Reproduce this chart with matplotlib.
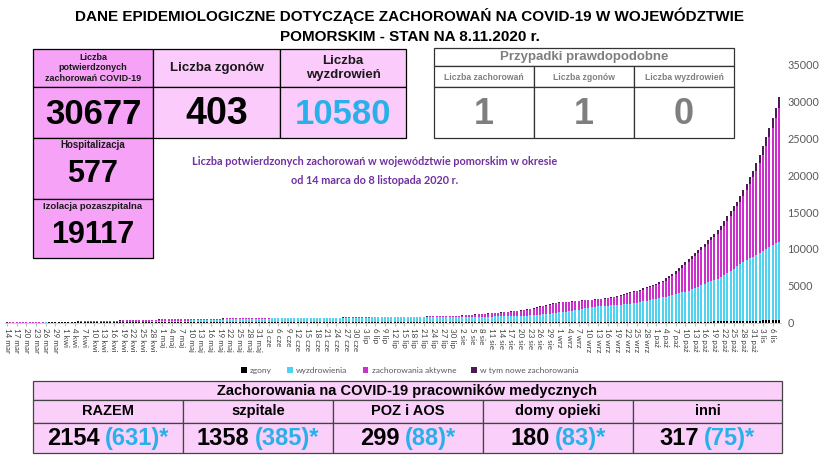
import matplotlib
matplotlib.use("Agg")
import matplotlib.pyplot as plt
from matplotlib.patches import Rectangle
import numpy as np
import pandas as pd

# --- dane: narastajaco, 14.03 - 8.11.2020 ---
total_mar = [3, 5, 7, 9, 11, 14, 17, 21, 25, 30, 36, 43, 51, 59, 68, 76, 85, 94]
total_apr = [103, 112, 121, 131, 141, 151, 161, 172, 183, 194, 205, 216, 227, 238, 249,
             260, 271, 282, 293, 304, 315, 326, 337, 348, 358, 368, 378, 388, 398, 408]
total_may = [418, 426, 434, 442, 450, 457, 464, 471, 478, 485, 492, 499, 505, 511, 517, 523,
             529, 535, 541, 546, 551, 556, 561, 566, 571, 575, 579, 583, 587, 591, 595]
total_jun = [599, 603, 607, 611, 615, 619, 622, 625, 628, 631, 634, 637, 640, 643, 646,
             649, 652, 655, 658, 661, 664, 667, 670, 673, 676, 679, 682, 685, 688, 691]
total_jul = [692, 694, 697, 700, 704, 708, 712, 717, 722, 728, 734, 740, 747, 754, 761, 768,
             776, 784, 792, 800, 809, 818, 827, 836, 845, 854, 863, 872, 881, 890, 900]
total_aug = [930, 965, 1000, 1035, 1070, 1105, 1140, 1170, 1200, 1230, 1265, 1300, 1340, 1380,
             1420, 1465, 1510, 1560, 1615, 1675, 1740, 1810, 1890, 1980, 2080, 2190, 2300,
             2400, 2500, 2590, 2660]
total_sep = [2720, 2760, 2800, 2840, 2880, 2920, 2960, 3000, 3040, 3080, 3120, 3160, 3200,
             3250, 3300, 3360, 3430, 3520, 3620, 3720, 3830, 3950, 4080, 4210, 4340, 4480,
             4620, 4770, 4920, 5080]
total_oct = [5250, 5450, 5700, 5980, 6280, 6620, 7000, 7400, 7800, 8200, 8600, 9000, 9400,
             9800, 10250, 10700, 11150, 11600, 12050, 12550, 13100, 13750, 14400, 15100,
             15750, 16400, 17150, 17950, 18800, 19700, 20600]
total_nov = [21600, 22800, 24000, 25200, 26400, 27700, 29100, 30677]

rec_mar = [0, 0, 0, 0, 0, 0, 0, 0, 0, 0, 0, 0, 1, 1, 2, 2, 3, 3]
rec_apr = [4, 5, 6, 8, 10, 12, 14, 17, 20, 23, 26, 30, 34, 38, 43, 48, 53, 58, 64, 70,
           76, 83, 90, 97, 104, 112, 120, 128, 137, 146]
rec_may = [155, 165, 175, 185, 196, 207, 218, 230, 242, 254, 266, 278, 290, 302, 314, 326,
           338, 350, 362, 374, 386, 397, 408, 419, 430, 440, 450, 460, 470, 480, 489]
rec_jun = [497, 505, 512, 519, 526, 532, 538, 544, 550, 555, 560, 565, 570, 574, 578, 582,
           586, 590, 594, 598, 601, 604, 607, 610, 613, 616, 619, 622, 625, 628]
rec_jul = [630, 632, 634, 636, 638, 640, 642, 645, 648, 651, 654, 657, 660, 663, 666, 669,
           672, 675, 678, 681, 684, 687, 690, 693, 696, 699, 702, 705, 708, 711, 714]
rec_aug = [717, 720, 723, 726, 730, 734, 738, 742, 747, 752, 757, 763, 769, 776, 784, 793,
           803, 814, 826, 840, 856, 875, 900, 930, 965, 1005, 1050, 1100, 1150, 1200, 1250]
rec_sep = [1300, 1360, 1420, 1480, 1540, 1600, 1680, 1760, 1840, 1920, 2000, 2060, 2100,
           2140, 2180, 2210, 2240, 2270, 2300, 2330, 2360, 2390, 2420, 2500, 2580, 2660,
           2760, 2880, 2980, 3060]
rec_oct = [3140, 3220, 3300, 3400, 3520, 3650, 3780, 3880, 3980, 4080, 4200, 4380, 4560,
           4740, 4920, 5100, 5300, 5450, 5600, 5800, 6000, 6240, 6500, 6800, 7100, 7450,
           7800, 8050, 8300, 8500, 8700]
rec_nov = [8950, 9200, 9450, 9700, 9950, 10150, 10350, 10580]

dead_mar = [0, 0, 0, 0, 0, 0, 0, 0, 0, 0, 0, 0, 0, 1, 1, 1, 2, 2]
dead_apr = [2, 2, 3, 3, 3, 4, 4, 5, 5, 6, 6, 7, 7, 8, 8, 9, 9, 10, 10, 11,
            11, 12, 12, 13, 13, 14, 14, 15, 15, 16]
dead_may = [16, 17, 17, 18, 18, 19, 19, 20, 20, 21, 21, 22, 22, 23, 23, 24, 24, 25, 25, 26,
            26, 27, 27, 28, 28, 28, 29, 29, 29, 30, 30]
dead_jun = [30, 31, 31, 31, 32, 32, 32, 33, 33, 33, 34, 34, 34, 35, 35, 35, 36, 36, 36, 37,
            37, 37, 38, 38, 38, 39, 39, 39, 40, 40]
dead_jul = [40, 40, 41, 41, 41, 42, 42, 42, 43, 43, 43, 44, 44, 44, 45, 45, 45, 46, 46, 46,
            47, 47, 47, 48, 48, 48, 49, 49, 49, 50, 50]
dead_aug = [50, 51, 51, 52, 52, 53, 53, 54, 54, 55, 55, 56, 56, 57, 57, 58, 58, 59, 59, 60,
            60, 61, 61, 62, 62, 63, 63, 64, 64, 65, 65]
dead_sep = [66, 67, 68, 69, 70, 71, 72, 73, 74, 75, 76, 77, 78, 79, 80, 81, 82, 83, 84, 85,
            86, 87, 88, 89, 90, 91, 92, 93, 94, 95]
dead_oct = [96, 97, 98, 99, 100, 102, 104, 106, 108, 110, 112, 115, 118, 121, 124, 127, 131,
            135, 139, 143, 148, 153, 158, 164, 170, 177, 185, 194, 204, 215, 227]
dead_nov = [242, 260, 280, 302, 326, 350, 376, 403]

months_pl = ['sty', 'lut', 'mar', 'kwi', 'maj', 'cze', 'lip', 'sie', 'wrz', 'paź', 'lis', 'gru']

# kafelki
box_labels = ["Liczba\npotwierdzonych\nzachorowań COVID-19", "Liczba zgonów", "Liczba\nwyzdrowień"]
box_values = [30677, 403, 10580]
hosp_value = 577
isol_value = 19117
prob_labels = ["Liczba zachorowań", "Liczba zgonów", "Liczba wyzdrowień"]
prob_values = [1, 1, 0]
med_labels = ["RAZEM", "szpitale", "POZ i AOS", "domy opieki", "inni"]
med_total = [2154, 1358, 299, 180, 317]
med_recent = [631, 385, 88, 83, 75]

total = np.array(total_mar + total_apr + total_may + total_jun + total_jul + total_aug
                 + total_sep + total_oct + total_nov)
recovered = np.array(rec_mar + rec_apr + rec_may + rec_jun + rec_jul + rec_aug
                     + rec_sep + rec_oct + rec_nov)
deaths = np.array(dead_mar + dead_apr + dead_may + dead_jun + dead_jul + dead_aug
                  + dead_sep + dead_oct + dead_nov)
new_cases = np.diff(total, prepend=0)
active = total - recovered - deaths - new_cases

dates = pd.date_range("2020-03-14", periods=len(total), freq="D")
x = np.arange(len(total))
ticks = x[::3]
tick_labels = [f"{dates[i].day} {months_pl[dates[i].month - 1]}" for i in ticks]

ARIAL = ['Liberation Sans', 'DejaVu Sans']
CALIBRI = ['Lato', 'DejaVu Sans']

CYAN = '#4FD3F0'
MAGENTA = '#CC2FCC'
PURPLE = '#4A1D52'
BLUE_TXT = '#2AB0E8'

fig = plt.figure(figsize=(8.2, 4.65), dpi=100)

# --- wykres ---
ax = fig.add_axes([5.4 / 820, 1 - 322.5 / 465, 775.2 / 820, (322.5 - 64.7) / 465])
w = 0.62
ax.bar(x, deaths, width=w, color='black', label='zgony')
ax.bar(x, recovered, width=w, bottom=deaths, color=CYAN, label='wyzdrowienia')
ax.bar(x, active, width=w, bottom=deaths + recovered, color=MAGENTA, label='zachorowania aktywne')
ax.bar(x, new_cases, width=w, bottom=deaths + recovered + active, color=PURPLE,
       label='w tym nowe zachorowania')
ax.set_xlim(-0.5, len(total) - 0.5)
ax.set_ylim(0, 35000)
ax.set_yticks(np.arange(0, 35001, 5000))
ax.yaxis.tick_right()
ax.tick_params(axis='y', length=0, pad=5, labelsize=7.8, labelcolor='#595959')
for lab in ax.get_yticklabels():
    lab.set_family(CALIBRI)
ax.set_xticks(ticks)
ax.set_xticklabels(tick_labels, rotation=-90, fontsize=5.8, color='#404040', family=CALIBRI)
ax.tick_params(axis='x', length=2, color='#BFBFBF', pad=2)
for s in ['top', 'left', 'right']:
    ax.spines[s].set_visible(False)
ax.spines['bottom'].set_color('#D0D0D0')
ax.patch.set_visible(False)

fig.legend(loc='center', bbox_to_anchor=(0.5, 1 - 370 / 465), ncol=4, frameon=False,
           labelcolor='#595959', handlelength=0.7, handleheight=0.7,
           columnspacing=1.8, handletextpad=0.4, prop={'family': CALIBRI, 'size': 6})

# --- nakladka w pikselach ---
ov = fig.add_axes([0, 0, 1, 1], zorder=5)
ov.set_xlim(0, 820)
ov.set_ylim(465, 0)
ov.axis('off')
ov.patch.set_visible(False)


def cell(x0, y0, x1, y1, fc, ec='black', lw=0.9):
    ov.add_patch(Rectangle((x0, y0), x1 - x0, y1 - y0, facecolor=fc, edgecolor=ec, lw=lw))


# tytul
ov.text(410, 16, "DANE EPIDEMIOLOGICZNE DOTYCZĄCE ZACHOROWAŃ NA COVID-19 W WOJEWÓDZTWIE",
        ha='center', va='center', fontsize=11, fontweight='bold', family=ARIAL)
ov.text(410, 37, "POMORSKIM - STAN NA 8.11.2020 r.",
        ha='center', va='center', fontsize=11, fontweight='bold', family=ARIAL)

# lewa tabela
cols = [33, 153, 280, 406]
PINK_STRONG = '#F6A2F6'
PINK_LIGHT = '#FBCBFB'
for i in range(3):
    fc = PINK_STRONG if i == 0 else PINK_LIGHT
    cell(cols[i], 49, cols[i + 1], 87, fc)
    cell(cols[i], 87, cols[i + 1], 138, fc)
    xc = (cols[i] + cols[i + 1]) / 2
    ov.text(xc, 68, box_labels[i], ha='center', va='center', family=ARIAL, fontweight='bold',
            fontsize=6.5 if i == 0 else 9.5, color='#1A1A1A', linespacing=1.25)
    ov.text(xc, 114, str(box_values[i]), ha='center', va='center', family=ARIAL,
            fontweight='bold', fontsize=27 if i == 1 else 25,
            color=BLUE_TXT if i == 2 else 'black')

cell(33, 138, 153, 199, PINK_STRONG)
cell(33, 199, 153, 258, PINK_STRONG)
ov.text(93, 145, "Hospitalizacja", ha='center', va='center', family=ARIAL,
        fontweight='bold', fontsize=7, color='#1A1A1A')
ov.text(93, 174, str(hosp_value), ha='center', va='center', family=ARIAL,
        fontweight='bold', fontsize=22)
ov.text(93, 206, "Izolacja pozaszpitalna", ha='center', va='center', family=ARIAL,
        fontweight='bold', fontsize=6.8, color='#1A1A1A')
ov.text(93, 235, str(isol_value), ha='center', va='center', family=ARIAL,
        fontweight='bold', fontsize=22)

# przypadki prawdopodobne
GRAY = '#7F7F7F'
pcols = [434, 534, 634, 734]
cell(434, 48, 734, 66, 'white', ec='#333333')
ov.text(584, 57, "Przypadki prawdopodobne", ha='center', va='center', family=ARIAL,
        fontweight='bold', fontsize=9.5, color=GRAY)
for i in range(3):
    cell(pcols[i], 66, pcols[i + 1], 87, 'white', ec='#333333')
    cell(pcols[i], 87, pcols[i + 1], 138, 'white', ec='#333333')
    xc = (pcols[i] + pcols[i + 1]) / 2
    ov.text(xc, 77, prob_labels[i], ha='center', va='center', family=ARIAL,
            fontweight='bold', fontsize=6.2, color=GRAY)
    ov.text(xc, 114, str(prob_values[i]), ha='center', va='center', family=ARIAL,
            fontweight='bold', fontsize=26, color=GRAY)

# opis wykresu
ov.text(375, 171, "Liczba potwierdzonych zachorowań w województwie pomorskim w okresie\n"
        "od 14 marca do 8 listopada 2020 r.", ha='center', va='center', family=CALIBRI,
        fontweight='bold', fontsize=7.8, color='#7030A0', linespacing=1.9)

# tabela pracownikow medycznych
PINK_T = '#FAD0FA'
cell(33, 381, 782, 400, PINK_T, ec='#444444')
ov.text(407, 391, "Zachorowania na COVID-19 pracowników medycznych", ha='center',
        va='center', family=ARIAL, fontweight='bold', fontsize=10.5)
mcols = [33, 183, 333, 483, 633, 782]
fig.canvas.draw()
rend = fig.canvas.get_renderer()
for i in range(5):
    cell(mcols[i], 400, mcols[i + 1], 423, PINK_T, ec='#444444')
    cell(mcols[i], 423, mcols[i + 1], 453, PINK_T, ec='#444444')
    xc = (mcols[i] + mcols[i + 1]) / 2
    ov.text(xc, 411, med_labels[i], ha='center', va='center', family=ARIAL,
            fontweight='bold', fontsize=10.5)
    t1 = ov.text(0, 438, str(med_total[i]), ha='left', va='center', family=ARIAL,
                 fontweight='bold', fontsize=17)
    t2 = ov.text(0, 438, f"({med_recent[i]})*", ha='left', va='center', family=ARIAL,
                 fontweight='bold', fontsize=17, color=BLUE_TXT)
    w1 = t1.get_window_extent(rend).width
    w2 = t2.get_window_extent(rend).width
    gap = 5
    start = xc - (w1 + gap + w2) / 2
    t1.set_x(start)
    t2.set_x(start + w1 + gap)

fig.savefig("out.png", dpi=100)
